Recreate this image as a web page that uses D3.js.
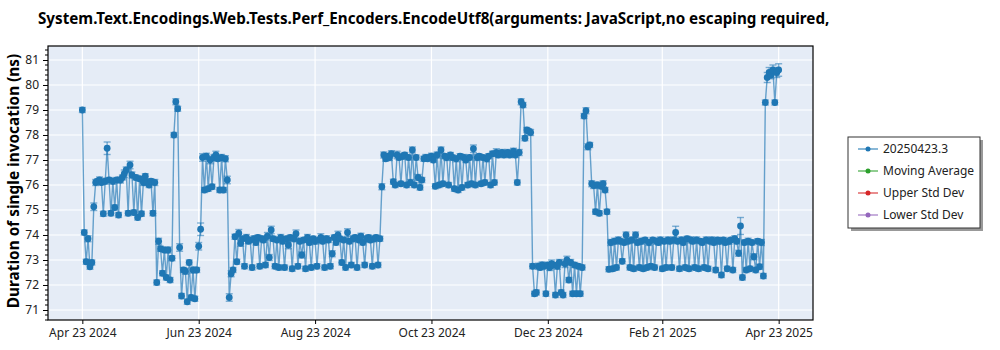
<!DOCTYPE html>
<html>
<head>
<meta charset="utf-8">
<script src="https://cdn.jsdelivr.net/npm/d3@7"></script>
<style>
  body { margin: 0; background: #fff; }
  text { font-family: "Noto Sans", "Open Sans", sans-serif; }
</style>
</head>
<body>
<svg id="chart" width="1000" height="350"></svg>
<script>
// ---- chart text ----
const chartTitle = "System.Text.Encodings.Web.Tests.Perf_Encoders.EncodeUtf8(arguments: JavaScript,no escaping required,";
const yAxisTitle = "Duration of single invocation (ns)";
const seriesNames = ["20250423.3", "Moving Average", "Upper Std Dev", "Lower Std Dev"];
const seriesColors = ["#1f77b4", "#2ca02c", "#d62728", "#9467bd"];

// ---- axis ticks ----
const xTickDates = ["2024-04-23", "2024-06-23", "2024-08-23", "2024-10-23", "2024-12-23", "2025-02-21", "2025-04-23"];
const xTickLabels = ["Apr 23 2024", "Jun 23 2024", "Aug 23 2024", "Oct 23 2024", "Dec 23 2024", "Feb 21 2025", "Apr 23 2025"];
const yTickValues = [71, 72, 73, 74, 75, 76, 77, 78, 79, 80, 81];
const xDomain = ["2024-04-05", "2025-05-11"];
const yDomain = [70.6, 81.56];

// ---- run dates ----
const runDates = [
  "2024-04-23","2024-04-24","2024-04-25","2024-04-26","2024-04-27","2024-04-28","2024-04-29","2024-04-30",
  "2024-05-01","2024-05-02","2024-05-03","2024-05-04","2024-05-05","2024-05-06","2024-05-07","2024-05-08","2024-05-09","2024-05-10",
  "2024-05-11","2024-05-12","2024-05-13","2024-05-14","2024-05-15","2024-05-16","2024-05-17","2024-05-18","2024-05-19","2024-05-20",
  "2024-05-21","2024-05-22","2024-05-23","2024-05-24","2024-05-25","2024-05-26","2024-05-27","2024-05-28","2024-05-29","2024-05-30","2024-05-31",
  "2024-06-01","2024-06-02","2024-06-03","2024-06-04","2024-06-05","2024-06-06","2024-06-07","2024-06-08","2024-06-09","2024-06-10",
  "2024-06-11","2024-06-12","2024-06-13","2024-06-14","2024-06-15","2024-06-16","2024-06-17","2024-06-18","2024-06-19","2024-06-20",
  "2024-06-21","2024-06-22","2024-06-23","2024-06-24","2024-06-25","2024-06-26","2024-06-27","2024-06-28","2024-06-29","2024-06-30",
  "2024-07-01","2024-07-02","2024-07-03","2024-07-04","2024-07-05","2024-07-06","2024-07-07","2024-07-08","2024-07-09","2024-07-10",
  "2024-07-11","2024-07-12","2024-07-13","2024-07-14","2024-07-15","2024-07-16","2024-07-17","2024-07-18","2024-07-19","2024-07-20",
  "2024-07-21","2024-07-22","2024-07-23","2024-07-24","2024-07-25","2024-07-26","2024-07-27","2024-07-28","2024-07-29","2024-07-30","2024-07-31",
  "2024-08-01","2024-08-02","2024-08-03","2024-08-04","2024-08-05","2024-08-06","2024-08-07","2024-08-08","2024-08-09","2024-08-10",
  "2024-08-11","2024-08-12","2024-08-13","2024-08-14","2024-08-15","2024-08-16","2024-08-17","2024-08-18","2024-08-19","2024-08-20",
  "2024-08-21","2024-08-22","2024-08-23","2024-08-24","2024-08-25","2024-08-26","2024-08-27","2024-08-28","2024-08-29","2024-08-30","2024-08-31",
  "2024-09-01","2024-09-02","2024-09-03","2024-09-04","2024-09-05","2024-09-06","2024-09-07","2024-09-08","2024-09-09","2024-09-10",
  "2024-09-11","2024-09-12","2024-09-13","2024-09-14","2024-09-15","2024-09-16","2024-09-17","2024-09-18","2024-09-19","2024-09-20",
  "2024-09-21","2024-09-22","2024-09-23","2024-09-24","2024-09-25","2024-09-26","2024-09-27","2024-09-28","2024-09-29","2024-09-30",
  "2024-10-01","2024-10-02","2024-10-03","2024-10-04","2024-10-05","2024-10-06","2024-10-07","2024-10-08","2024-10-09","2024-10-10",
  "2024-10-11","2024-10-12","2024-10-13","2024-10-14","2024-10-15","2024-10-16","2024-10-17","2024-10-18","2024-10-19","2024-10-20",
  "2024-10-21","2024-10-22","2024-10-23","2024-10-24","2024-10-25","2024-10-26","2024-10-27","2024-10-28","2024-10-29","2024-10-30","2024-10-31",
  "2024-11-01","2024-11-02","2024-11-03","2024-11-04","2024-11-05","2024-11-06","2024-11-07","2024-11-08","2024-11-09","2024-11-10",
  "2024-11-11","2024-11-12","2024-11-13","2024-11-14","2024-11-15","2024-11-16","2024-11-17","2024-11-18","2024-11-19","2024-11-20",
  "2024-11-21","2024-11-22","2024-11-23","2024-11-24","2024-11-25","2024-11-26","2024-11-27","2024-11-28","2024-11-29","2024-11-30",
  "2024-12-01","2024-12-02","2024-12-03","2024-12-04","2024-12-05","2024-12-06","2024-12-07","2024-12-08","2024-12-09","2024-12-10",
  "2024-12-11","2024-12-12","2024-12-13","2024-12-14","2024-12-15","2024-12-16","2024-12-17","2024-12-18","2024-12-19","2024-12-20",
  "2024-12-21","2024-12-22","2024-12-23","2024-12-24","2024-12-25","2024-12-26","2024-12-27","2024-12-28","2024-12-29","2024-12-30","2024-12-31",
  "2025-01-01","2025-01-02","2025-01-03","2025-01-04","2025-01-05","2025-01-06","2025-01-07","2025-01-08","2025-01-09","2025-01-10",
  "2025-01-11","2025-01-12","2025-01-13","2025-01-14","2025-01-15","2025-01-16","2025-01-17","2025-01-18","2025-01-19","2025-01-20",
  "2025-01-21","2025-01-22","2025-01-23","2025-01-24","2025-01-25","2025-01-26","2025-01-27","2025-01-28","2025-01-29","2025-01-30","2025-01-31",
  "2025-02-01","2025-02-02","2025-02-03","2025-02-04","2025-02-05","2025-02-06","2025-02-07","2025-02-08","2025-02-09","2025-02-10",
  "2025-02-11","2025-02-12","2025-02-13","2025-02-14","2025-02-15","2025-02-16","2025-02-17","2025-02-18","2025-02-19","2025-02-20",
  "2025-02-21","2025-02-22","2025-02-23","2025-02-24","2025-02-25","2025-02-26","2025-02-27","2025-02-28",
  "2025-03-01","2025-03-02","2025-03-03","2025-03-04","2025-03-05","2025-03-06","2025-03-07","2025-03-08","2025-03-09","2025-03-10",
  "2025-03-11","2025-03-12","2025-03-13","2025-03-14","2025-03-15","2025-03-16","2025-03-17","2025-03-18","2025-03-19","2025-03-20",
  "2025-03-21","2025-03-22","2025-03-23","2025-03-24","2025-03-25","2025-03-26","2025-03-27","2025-03-28","2025-03-29","2025-03-30","2025-03-31",
  "2025-04-01","2025-04-02","2025-04-03","2025-04-04","2025-04-05","2025-04-06","2025-04-07","2025-04-08","2025-04-09","2025-04-10",
  "2025-04-11","2025-04-12","2025-04-13","2025-04-14","2025-04-15","2025-04-16","2025-04-17","2025-04-18","2025-04-19","2025-04-20",
  "2025-04-21","2025-04-22","2025-04-23"
];

// ---- duration per run (ns) ----
const durations = [
  79.0, 74.1, 72.93, 73.85, 72.73, 72.9, 75.13, 76.1, 76.15, 76.2,
  76.1, 74.85, 76.15, 77.47, 76.2, 74.87, 76.15, 75.1, 76.2, 74.8,
  76.2, 76.3, 76.45, 76.6, 74.87, 76.8, 76.4, 74.9, 76.3, 74.7,
  76.25, 74.85, 76.1, 76.35, 76.1, 76.0, 76.15, 74.87, 76.1, 72.1,
  73.75, 73.45, 72.47, 73.4, 72.3, 73.4, 72.2, 73.07, 78.0, 79.33,
  79.05, 73.5, 71.56, 72.6, 72.55, 71.33, 72.9, 71.5, 72.6, 71.45,
  72.6, 73.55, 74.23, 77.1, 75.8, 77.15, 75.85, 77.0, 75.93, 77.1,
  77.2, 77.05, 75.8, 77.1, 75.8, 77.05, 76.2, 71.5, 72.45, 72.6,
  73.93, 72.93, 74.07, 73.67, 73.85, 72.75, 73.9, 73.75, 73.8, 72.7,
  73.85, 73.7, 73.9, 72.75, 73.85, 73.8, 72.8, 73.95, 73.1, 74.2,
  73.85, 72.75, 73.8, 72.7, 73.9, 73.75, 72.7, 73.85, 73.6, 73.9,
  72.65, 73.85, 74.05, 72.75, 73.75, 73.2, 73.8, 72.65, 73.9, 73.7,
  72.7, 73.85, 73.75, 72.75, 73.8, 73.9, 73.75, 72.7, 73.85, 73.8,
  72.75, 73.25, 73.9, 73.7, 74.0, 73.85, 72.9, 73.8, 72.7, 74.1,
  73.75, 72.8, 73.85, 73.9, 72.7, 73.8, 73.95, 73.7, 72.8, 73.85,
  73.9, 73.8, 72.75, 73.85, 73.9, 72.8, 73.85, 75.93, 77.2, 77.05,
  77.15, 77.1, 77.25, 76.13, 76.0, 77.2, 77.1, 76.05, 77.15, 77.2,
  76.0, 77.1, 76.1, 77.4, 76.0, 77.1, 76.3, 75.9, 76.2, 77.05,
  77.1, 77.05, 77.1, 77.15, 77.0, 75.95, 77.2, 76.0, 77.4, 76.05,
  77.15, 77.1, 76.0, 77.2, 77.1, 75.85, 77.05, 75.8, 77.15, 75.9,
  77.1, 77.0, 76.0, 77.1, 76.05, 77.45, 76.0, 77.1, 77.15, 76.05,
  77.1, 76.1, 77.05, 77.15, 76.0, 77.25, 76.1, 77.3, 77.2, 77.25,
  77.3, 77.2, 77.25, 77.3, 77.2, 77.25, 77.35, 77.2, 76.1, 77.3,
  79.33, 79.2, 77.87, 78.2, 78.15, 78.1, 72.75, 71.65, 71.7, 72.75,
  72.7, 72.8, 72.75, 71.65, 72.8, 72.7, 72.85, 72.8, 71.6, 72.75,
  72.9, 71.7, 71.6, 72.85, 73.0, 72.2, 72.9, 71.65, 72.8, 71.65,
  72.75, 71.65, 72.7, 78.76, 78.97, 77.53, 77.6, 76.05, 75.98, 74.93,
  76.0, 74.87, 75.95, 76.05, 75.8, 74.93, 72.63, 73.7, 72.65, 73.75,
  72.7, 73.8, 73.75, 72.95, 73.7, 74.0, 73.75, 72.7, 73.8, 72.65,
  74.0, 73.7, 72.7, 73.75, 72.65, 73.8, 72.7, 73.7, 72.75, 73.8,
  72.7, 73.75, 73.7, 73.8, 72.65, 73.75, 72.7, 73.8, 73.75, 72.7,
  73.8, 74.1, 73.75, 72.65, 73.8, 73.7, 72.7, 73.85, 72.65, 73.8,
  73.75, 72.7, 73.8, 72.65, 73.75, 73.7, 72.7, 73.8, 72.65, 73.75,
  73.8, 73.7, 72.6, 73.8, 73.75, 72.4, 73.8, 73.7, 72.65, 73.75,
  73.8, 72.6, 73.85, 73.75, 73.27, 74.36, 72.3, 73.7, 72.6, 73.75,
  72.65, 73.7, 73.13, 72.6, 73.75, 72.73, 73.7, 72.36, 79.3, 80.3,
  80.5, 80.4, 80.6, 79.3, 80.5, 80.6
];

// ---- error bar half-height per run (ns) ----
const errorSizes = [
  0.1,0.1,0.1,0.12,0.1,0.1,0.15,0.12,0.1,0.12,
  0.1,0.1,0.12,0.25,0.1,0.1,0.12,0.1,0.1,0.1,
  0.12,0.1,0.15,0.12,0.1,0.15,0.12,0.1,0.1,0.1,
  0.1,0.1,0.12,0.1,0.12,0.1,0.1,0.1,0.12,0.1,
  0.12,0.1,0.1,0.1,0.1,0.12,0.1,0.1,0.1,0.12,
  0.1,0.15,0.1,0.1,0.12,0.1,0.1,0.1,0.12,0.1,
  0.1,0.15,0.25,0.15,0.1,0.12,0.1,0.15,0.1,0.12,
  0.15,0.1,0.1,0.12,0.1,0.12,0.15,0.15,0.12,0.1,
  0.1,0.1,0.15,0.12,0.1,0.1,0.12,0.1,0.1,0.1,
  0.12,0.1,0.1,0.1,0.12,0.1,0.1,0.15,0.12,0.15,
  0.1,0.1,0.1,0.1,0.12,0.1,0.1,0.1,0.15,0.1,
  0.1,0.12,0.15,0.1,0.1,0.12,0.1,0.1,0.12,0.1,
  0.1,0.1,0.12,0.1,0.1,0.15,0.1,0.1,0.12,0.1,
  0.1,0.12,0.1,0.1,0.15,0.1,0.1,0.1,0.1,0.15,
  0.1,0.1,0.12,0.1,0.1,0.1,0.12,0.1,0.1,0.12,
  0.1,0.1,0.1,0.12,0.1,0.1,0.1,0.12,0.12,0.1,
  0.1,0.12,0.12,0.1,0.1,0.15,0.1,0.1,0.12,0.1,
  0.1,0.1,0.12,0.12,0.1,0.1,0.12,0.1,0.1,0.1,
  0.12,0.1,0.1,0.12,0.1,0.1,0.12,0.1,0.12,0.1,
  0.1,0.12,0.1,0.1,0.1,0.1,0.12,0.1,0.1,0.1,
  0.12,0.1,0.1,0.1,0.1,0.15,0.1,0.12,0.1,0.1,
  0.1,0.1,0.12,0.1,0.1,0.1,0.1,0.15,0.1,0.1,
  0.12,0.1,0.1,0.12,0.1,0.1,0.12,0.1,0.1,0.12,
  0.12,0.1,0.1,0.1,0.1,0.12,0.1,0.1,0.1,0.12,
  0.1,0.12,0.1,0.1,0.1,0.12,0.15,0.1,0.1,0.12,
  0.12,0.1,0.1,0.15,0.15,0.1,0.12,0.1,0.1,0.1,
  0.1,0.1,0.1,0.1,0.12,0.12,0.1,0.12,0.12,0.1,
  0.12,0.1,0.1,0.12,0.1,0.1,0.1,0.12,0.1,0.12,
  0.1,0.12,0.1,0.1,0.1,0.12,0.1,0.1,0.12,0.1,
  0.12,0.1,0.1,0.12,0.1,0.1,0.1,0.12,0.1,0.1,
  0.1,0.12,0.1,0.12,0.1,0.1,0.1,0.12,0.1,0.1,
  0.12,0.25,0.1,0.1,0.12,0.1,0.1,0.1,0.1,0.12,
  0.1,0.1,0.12,0.1,0.1,0.1,0.1,0.12,0.1,0.1,
  0.12,0.1,0.1,0.1,0.12,0.1,0.1,0.1,0.1,0.12,
  0.1,0.1,0.12,0.1,0.12,0.34,0.1,0.1,0.1,0.12,
  0.1,0.1,0.12,0.1,0.1,0.1,0.12,0.1,0.1,0.2,
  0.2,0.15,0.2,0.1,0.2,0.25
];

// ---- layout ----
const plot = { left: 48, top: 46, right: 813, bottom: 320 };
const parseDate = d3.utcParse("%Y-%m-%d");

const points = runDates.map((d, i) => ({
  date: parseDate(d),
  value: durations[i],
  err: errorSizes[i]
}));

const svg = d3.select("#chart");

const x = d3.scaleUtc()
  .domain(xDomain.map(parseDate))
  .range([plot.left, plot.right]);
const y = d3.scaleLinear()
  .domain(yDomain)
  .range([plot.bottom, plot.top]);

// plot background
svg.append("rect")
  .attr("x", plot.left).attr("y", plot.top)
  .attr("width", plot.right - plot.left)
  .attr("height", plot.bottom - plot.top)
  .attr("fill", "#e5ecf6");

// grid
const grid = svg.append("g");
grid.selectAll("line.h").data(yTickValues).join("line")
  .attr("x1", plot.left).attr("x2", plot.right)
  .attr("y1", d => y(d)).attr("y2", d => y(d))
  .attr("stroke", "#fff").attr("stroke-width", 1.2);
grid.selectAll("line.v").data(xTickDates).join("line")
  .attr("x1", d => x(parseDate(d))).attr("x2", d => x(parseDate(d)))
  .attr("y1", plot.top).attr("y2", plot.bottom)
  .attr("stroke", "#fff").attr("stroke-width", 1.2);

// clip for the data layers
svg.append("clipPath").attr("id", "plotClip")
  .append("rect")
  .attr("x", plot.left).attr("y", plot.top)
  .attr("width", plot.right - plot.left)
  .attr("height", plot.bottom - plot.top);
const dataLayer = svg.append("g").attr("clip-path", "url(#plotClip)");

const blue = seriesColors[0];

// connecting line
dataLayer.append("path")
  .datum(points)
  .attr("fill", "none")
  .attr("stroke", blue)
  .attr("stroke-opacity", 0.65)
  .attr("stroke-width", 1.4)
  .attr("d", d3.line().x(d => x(d.date)).y(d => y(d.value)));

// error bars
const eb = dataLayer.append("g")
  .attr("stroke", blue)
  .attr("stroke-opacity", 0.55)
  .attr("stroke-width", 1.4);
eb.selectAll("line.stem").data(points).join("line")
  .attr("x1", d => x(d.date)).attr("x2", d => x(d.date))
  .attr("y1", d => y(d.value - d.err)).attr("y2", d => y(d.value + d.err));
eb.selectAll("line.capTop").data(points).join("line")
  .attr("x1", d => x(d.date) - 3.5).attr("x2", d => x(d.date) + 3.5)
  .attr("y1", d => y(d.value + d.err)).attr("y2", d => y(d.value + d.err));
eb.selectAll("line.capBot").data(points).join("line")
  .attr("x1", d => x(d.date) - 3.5).attr("x2", d => x(d.date) + 3.5)
  .attr("y1", d => y(d.value - d.err)).attr("y2", d => y(d.value - d.err));

// markers
dataLayer.append("g").selectAll("circle").data(points).join("circle")
  .attr("cx", d => x(d.date))
  .attr("cy", d => y(d.value))
  .attr("r", 3.4)
  .attr("fill", blue);

// frame
svg.append("rect")
  .attr("x", plot.left).attr("y", plot.top)
  .attr("width", plot.right - plot.left)
  .attr("height", plot.bottom - plot.top)
  .attr("fill", "none")
  .attr("stroke", "#000")
  .attr("stroke-width", 1.2);

// y axis: major and minor ticks
const yAxis = d3.axisLeft(y)
  .tickValues(yTickValues)
  .tickSize(5)
  .tickPadding(4)
  .tickFormat(d3.format("d"));
const yAxisG = svg.append("g")
  .attr("transform", `translate(${plot.left},0)`)
  .call(yAxis);
yAxisG.select(".domain").remove();
yAxisG.selectAll("text").attr("font-size", 12).attr("fill", "#222");
yAxisG.selectAll("line").attr("stroke", "#000");

const yMinor = d3.range(Math.ceil(yDomain[0] * 5), Math.floor(yDomain[1] * 5) + 1)
  .map(k => k / 5)
  .filter(v => Math.abs(v - Math.round(v)) > 1e-6);
svg.append("g").selectAll("line").data(yMinor).join("line")
  .attr("x1", plot.left - 3).attr("x2", plot.left)
  .attr("y1", d => y(d)).attr("y2", d => y(d))
  .attr("stroke", "#000");

// x axis
const xAxis = d3.axisBottom(x)
  .tickValues(xTickDates.map(parseDate))
  .tickSize(4)
  .tickPadding(4)
  .tickFormat((d, i) => xTickLabels[i]);
const xAxisG = svg.append("g")
  .attr("transform", `translate(0,${plot.bottom})`)
  .call(xAxis);
xAxisG.select(".domain").remove();
xAxisG.selectAll("text").attr("font-size", 12).attr("fill", "#222");
xAxisG.selectAll("line").attr("stroke", "#000");

// titles
svg.append("text")
  .attr("x", 38).attr("y", 24)
  .attr("font-size", 15.2)
  .attr("font-weight", "bold")
  .attr("fill", "#000")
  .text(chartTitle);

svg.append("text")
  .attr("transform", "translate(19,181) rotate(-90)")
  .attr("text-anchor", "middle")
  .attr("font-size", 15.4)
  .attr("font-weight", "bold")
  .attr("fill", "#000")
  .text(yAxisTitle);

// legend
const legend = { x: 848, y: 137, w: 132, h: 91 };
svg.append("rect")
  .attr("x", legend.x + 3).attr("y", legend.y + 3)
  .attr("width", legend.w).attr("height", legend.h)
  .attr("fill", "#999");
svg.append("rect")
  .attr("x", legend.x).attr("y", legend.y)
  .attr("width", legend.w).attr("height", legend.h)
  .attr("fill", "#fff")
  .attr("stroke", "#333")
  .attr("stroke-width", 1);

const entries = svg.append("g").selectAll("g").data(seriesNames).join("g")
  .attr("transform", (d, i) => `translate(${legend.x + 10},${legend.y + 12 + i * 22})`);
entries.append("line")
  .attr("x1", 0).attr("x2", 20)
  .attr("stroke", (d, i) => seriesColors[i])
  .attr("stroke-opacity", 0.7)
  .attr("stroke-width", 1.5);
entries.append("circle")
  .attr("cx", 10).attr("r", 2.5)
  .attr("fill", (d, i) => seriesColors[i]);
entries.append("text")
  .attr("x", 25).attr("dy", "0.35em")
  .attr("font-size", 12)
  .attr("fill", "#222")
  .text(d => d);
</script>
</body>
</html>
